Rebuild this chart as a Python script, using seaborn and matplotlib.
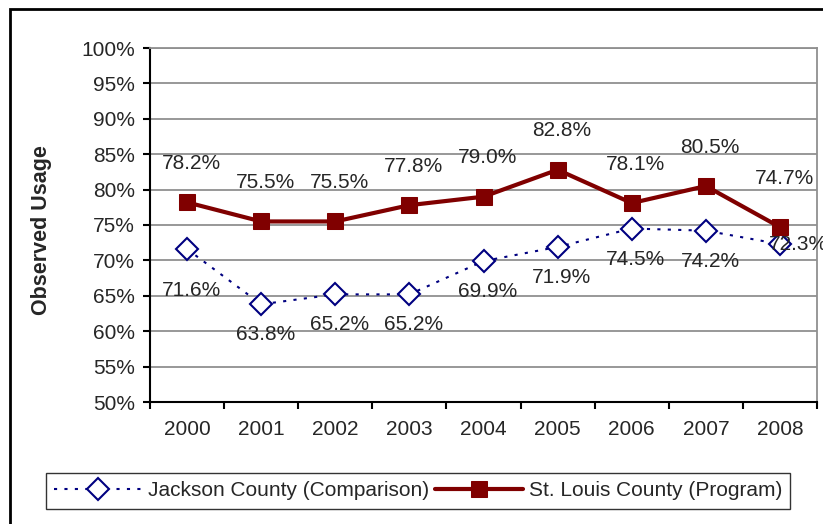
import numpy as np
import pandas as pd
import seaborn as sns
import matplotlib.pyplot as plt
from matplotlib.patches import Rectangle
from matplotlib.ticker import FixedLocator

years = [2000, 2001, 2002, 2003, 2004, 2005, 2006, 2007, 2008]
jackson = [71.6, 63.8, 65.2, 65.2, 69.9, 71.9, 74.5, 74.2, 72.3]
stlouis = [78.2, 75.5, 75.5, 77.8, 79.0, 82.8, 78.1, 80.5, 74.7]
yticks = list(range(50, 101, 5))

df = pd.DataFrame({'year': years, 'jackson': jackson, 'stlouis': stlouis})

sns.set_style('white')
plt.rcParams['font.family'] = ['Liberation Sans', 'DejaVu Sans']

fig = plt.figure(figsize=(8.23, 5.24), dpi=100)
ax = fig.add_axes([150 / 823, 1 - 402 / 524, 667 / 823, 354 / 524])

navy = '#000080'
maroon = '#800000'
fs = 15

sns.lineplot(data=df, x='year', y='jackson', ax=ax, color=navy, linestyle=(0, (1.5, 3.5)),
             linewidth=1.5, marker='D', markersize=11, markerfacecolor='white',
             markeredgecolor=navy, markeredgewidth=1.5, label='Jackson County (Comparison)')
sns.lineplot(data=df, x='year', y='stlouis', ax=ax, color=maroon, linewidth=3,
             marker='s', markersize=11.5, markeredgecolor=maroon,
             label='St. Louis County (Program)')

# data labels
for yr, v in zip(years, jackson):
    if yr == 2008:
        # reference has this one running into the right edge
        ax.annotate(f'{v:.1f}%', (yr, v), xytext=(-8, 0), textcoords='offset points',
                    ha='left', va='center', fontsize=fs, annotation_clip=False)
    else:
        dy = -30 if yr == 2000 else -22
        ax.annotate(f'{v:.1f}%', (yr, v), xytext=(3, dy), textcoords='offset points',
                    ha='center', va='center', fontsize=fs)
for yr, v in zip(years, stlouis):
    dy = 35 if yr == 2008 else 28
    ax.annotate(f'{v:.1f}%', (yr, v), xytext=(3, dy), textcoords='offset points',
                ha='center', va='center', fontsize=fs)

ax.set_xlim(1999.5, 2008.5)
ax.set_ylim(50, 100)
ax.set_yticks(yticks)
ax.set_yticklabels([f'{t}%' for t in yticks], fontsize=fs)
ax.set_xticks(years)
ax.set_xticklabels([str(y) for y in years], fontsize=fs)
ax.xaxis.set_minor_locator(FixedLocator(np.arange(1999.5, 2009, 1)))
ax.tick_params(axis='x', which='major', length=0, pad=13)
ax.tick_params(axis='x', which='minor', length=5, width=1.5, color='black', direction='out', bottom=True)
ax.tick_params(axis='y', length=5, width=1.5, color='black', direction='out', left=True, pad=6)
ax.yaxis.grid(True, color='#909090', linewidth=1.3)
ax.set_axisbelow(True)
for s in ['top', 'right']:
    ax.spines[s].set_color('#909090')
    ax.spines[s].set_linewidth(1.3)
for s in ['left', 'bottom']:
    ax.spines[s].set_color('black')
    ax.spines[s].set_linewidth(1.5)
ax.set_xlabel('')
ax.set_ylabel('Observed Usage', fontsize=15.5, fontweight='bold')
ax.yaxis.set_label_coords(52 / 823, 1 - 230 / 524, transform=fig.transFigure)

leg = ax.legend(loc='center', bbox_to_anchor=(418 / 823, 1 - 491 / 524),
                bbox_transform=fig.transFigure, ncol=2, frameon=True, fancybox=False,
                fontsize=fs, handlelength=4.2, columnspacing=0.3, handletextpad=0.3,
                borderpad=0.4, borderaxespad=0)
leg.get_frame().set_edgecolor('black')
leg.get_frame().set_linewidth(1)

fig.patches.append(Rectangle((10 / 823, -0.1), 1.2, 1 - 9 / 524 + 0.1, transform=fig.transFigure,
                             fill=False, edgecolor='black', linewidth=2, clip_on=False))

fig.savefig('out.png', dpi=100)
